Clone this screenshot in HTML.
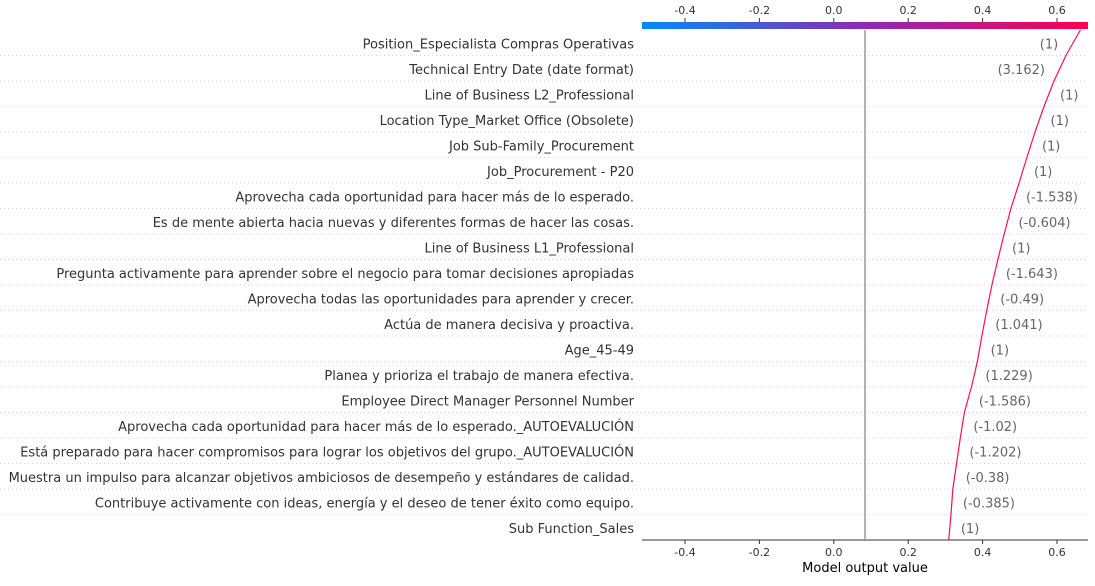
<!DOCTYPE html>
<html><head><meta charset="utf-8"><style>
body{margin:0;background:#fff;}
svg text{font-family:"DejaVu Sans","Liberation Sans",sans-serif;}
</style></head><body>
<svg id="chart" width="1095" height="581" xmlns="http://www.w3.org/2000/svg">
<defs><linearGradient id="cb" x1="0" x2="1" y1="0" y2="0">
<stop offset="0" stop-color="#008bfb"/><stop offset="0.5" stop-color="#8a2bb4"/><stop offset="1" stop-color="#ff0051"/></linearGradient></defs>
<g id="grid"></g>
<rect x="642" y="22" width="446" height="7" fill="url(#cb)"/>
<g id="axes"></g>
<g id="marks"></g>
</svg>
<script>
const features=["Position_Especialista Compras Operativas","Technical Entry Date (date format)","Line of Business L2_Professional","Location Type_Market Office (Obsolete)","Job Sub-Family_Procurement","Job_Procurement - P20","Aprovecha cada oportunidad para hacer más de lo esperado.","Es de mente abierta hacia nuevas y diferentes formas de hacer las cosas.","Line of Business L1_Professional","Pregunta activamente para aprender sobre el negocio para tomar decisiones apropiadas","Aprovecha todas las oportunidades para aprender y crecer.","Actúa de manera decisiva y proactiva.","Age_45-49","Planea y prioriza el trabajo de manera efectiva.","Employee Direct Manager Personnel Number","Aprovecha cada oportunidad para hacer más de lo esperado._AUTOEVALUCIÓN","Está preparado para hacer compromisos para lograr los objetivos del grupo._AUTOEVALUCIÓN","Muestra un impulso para alcanzar objetivos ambiciosos de desempeño y estándares de calidad.","Contribuye activamente con ideas, energía y el deseo de tener éxito como equipo.","Sub Function_Sales"];
const featureValues=["(1)","(3.162)","(1)","(1)","(1)","(1)","(-1.538)","(-0.604)","(1)","(-1.643)","(-0.49)","(1.041)","(1)","(1.229)","(-1.586)","(-1.02)","(-1.202)","(-0.38)","(-0.385)","(1)"];
// cumulative model output at each row boundary, top (0) to bottom (20)
const outputs=[0.663,0.624,0.592,0.565,0.541,0.519,0.498,0.476,0.458,0.441,0.425,0.411,0.398,0.386,0.37,0.351,0.34,0.33,0.32,0.315,0.309];
const ticks=[-0.4,-0.2,0.0,0.2,0.4,0.6];
const tickLabels=["-0.4","-0.2","0.0","0.2","0.4","0.6"];
const baseValue=0.084;
const labelLeft=[true,true];

const NS="http://www.w3.org/2000/svg";
const X0=642,X1=1088,Y0=30,Y1=540;
const xs=v=>833.8+v*372;
const rowH=(Y1-Y0)/features.length;
const yb=i=>Y0+i*rowH;
function mk(tag,attrs,parent,text){const e=document.createElementNS(NS,tag);for(const k in attrs)e.setAttribute(k,attrs[k]);if(text!==undefined)e.textContent=text;document.getElementById(parent).appendChild(e);return e;}

for(let i=1;i<features.length;i++){
  const l=mk("line",{x1:0,x2:X1,y1:yb(i),y2:yb(i),stroke:"#d4d4d4","stroke-width":1,"stroke-dasharray":"1,3"},"grid");
  
  
}
features.forEach((f,i)=>{
  const t=mk("text",{x:634,y:yb(i)+rowH/2+5.5,"text-anchor":"end","font-size":13,fill:"#333"},"axes",f);
  
  
});
const ax=mk("line",{x1:X0,x2:X1,y1:Y1,y2:Y1,stroke:"#333","stroke-width":1},"axes");


ticks.forEach((v,i)=>{
  const x=xs(v);
  const t1=mk("line",{x1:x,x2:x,y1:Y1,y2:Y1+4,stroke:"#333"},"axes");
  
  
  const t2=mk("line",{x1:x,x2:x,y1:18,y2:22,stroke:"#333"},"axes");
  
  
  const l1=mk("text",{x:x,y:Y1+16,"text-anchor":"middle","font-size":11,fill:"#333"},"axes",tickLabels[i]);
  
  
  const l2=mk("text",{x:x,y:14,"text-anchor":"middle","font-size":11,fill:"#333"},"axes",tickLabels[i]);
  
  
});
const ttl=mk("text",{x:865,y:572,"text-anchor":"middle","font-size":13,fill:"#000"},"axes","Model output value");


const bl=mk("line",{x1:xs(baseValue),x2:xs(baseValue),y1:Y0,y2:Y1,stroke:"#999","stroke-width":1.5},"marks");


const pts=outputs.map((v,i)=>xs(v)+","+yb(i)).join(" ");
const pl=mk("polyline",{points:pts,fill:"none",stroke:"#ff0d57","stroke-width":1.2},"marks");


featureValues.forEach((s,i)=>{
  const lx=(xs(outputs[i])+xs(outputs[i+1]))/2;
  const left=labelLeft[i]===true;
  const t=mk("text",{x:left?lx-15:lx+11,y:yb(i)+rowH/2+5.5,"text-anchor":left?"end":"start","font-size":13,fill:"#666"},"marks",s);
  
  
});
</script>
</body></html>
